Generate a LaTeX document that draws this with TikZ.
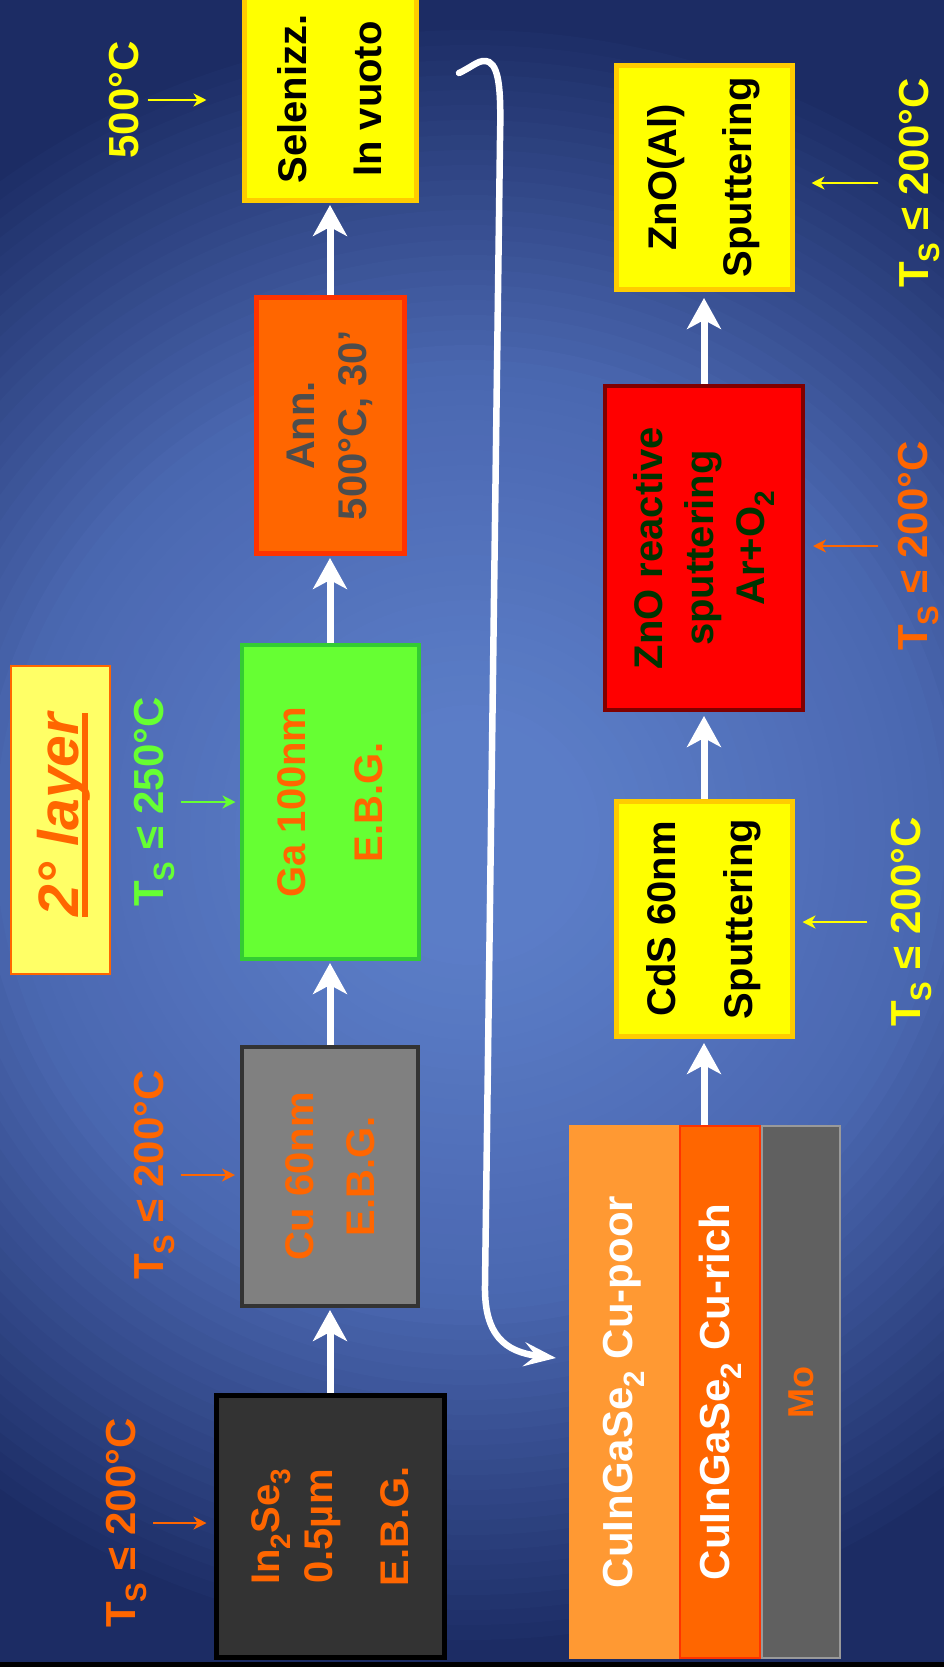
\documentclass[tikz,border=0pt]{standalone}
\usepackage{fontspec}
\setmainfont{Liberation Sans}
\usetikzlibrary{arrows.meta}
\definecolor{bglight}{HTML}{5B7DC7}
\definecolor{bgmid}{HTML}{4A67B0}
\definecolor{bgdark}{HTML}{1C2C64}
\definecolor{corange}{HTML}{FF6600}
\definecolor{cyellow}{HTML}{FFFF00}
\definecolor{cgold}{HTML}{FFCC00}
\definecolor{cgreen}{HTML}{66FF33}
\definecolor{cgreenb}{HTML}{33CC33}
\definecolor{cdark}{HTML}{333333}
\definecolor{cgray}{HTML}{808080}
\definecolor{cred}{HTML}{FF3300}
\definecolor{cmaroon}{HTML}{800000}
\definecolor{cdgreen}{HTML}{003300}
\definecolor{ctext}{HTML}{4D4D4D}
\definecolor{cpoor}{HTML}{FF9933}
\definecolor{cmo}{HTML}{606060}
\definecolor{cmob}{HTML}{999999}
\definecolor{cpale}{HTML}{FFFF66}
\tikzset{
  box/.style={rotate=90, inner sep=0pt, align=center},
  bf/.style={font=\bfseries\fontsize{40}{#1}\selectfont},
  flow/.style={draw=white, line width=7pt, -{Stealth[length=31pt,width=34pt,inset=9pt]}},
  tmark/.style={line width=2.5pt, -{Stealth[length=13pt,width=13pt,inset=4pt]}},
  lbl/.style={rotate=90, anchor=base, inner sep=0pt, font=\bfseries\fontsize{42}{50}\selectfont},
}
\begin{document}
\begin{tikzpicture}[x=1pt,y=-1pt]
\useasboundingbox (0,0) rectangle (944,1673);
% background: radial gradient built from concentric discs
\begin{scope}
\clip (0,0) rectangle (944,1662);
\fill[bgdark] (0,0) rectangle (944,1662);
\foreach \r in {1000,985,...,10} {
  \pgfmathtruncatemacro\pa{min(100,max(0,(\r-470)/3.5))}
  \pgfmathtruncatemacro\pb{min(100,max(0,(\r-120)/3.5))}
  \ifnum\r>470 \colorlet{cc}{bgdark!\pa!bgmid}\else\colorlet{cc}{bgmid!\pb!bglight}\fi
  \fill[cc] (470,835) circle (\r pt);
}
\end{scope}
\fill[black] (0,1662) rectangle (944,1667);
\fill[white] (0,1667) rectangle (944,1673);

% left column
\node[box, bf=53, draw=black, line width=5pt, fill=cdark, text=corange,
      minimum width=262pt, minimum height=228pt] (inse) at (330,1526.5)
      {In\textsubscript{2}Se\textsubscript{3}\\0.5µm\\[23pt]E.B.G.};
\node[box, bf=61, draw=cdark, line width=4pt, fill=cgray, text=corange,
      minimum width=259pt, minimum height=176pt] (cu) at (330,1176.5)
      {Cu 60nm\\E.B.G.};
\node[box, bf=77, draw=cgreenb, line width=4pt, fill=cgreen, text=corange,
      minimum width=314pt, minimum height=177pt] (ga) at (330,802)
      {Ga 100nm\\E.B.G.};
\node[box, bf=52, draw=cred, line width=5pt, fill=corange, text=ctext,
      minimum width=256pt, minimum height=148pt] (ann) at (330,425.5)
      {Ann.\\500°C, 30’};
\node[box, bf=75, draw=cgold, line width=5pt, fill=cyellow, text=black,
      minimum width=203pt, minimum height=172pt] (sel) at (330,99)
      {Selenizz.\\In vuoto};

% right column
\node[box, bf=75, draw=cgold, line width=5pt, fill=cyellow, text=black,
      minimum width=224pt, minimum height=176pt] (zal) at (704,177.5)
      {ZnO(Al)\\Sputtering};
\node[box, bf=51, draw=cmaroon, line width=4pt, fill=red, text=cdgreen,
      minimum width=324pt, minimum height=198pt] (zre) at (704,548)
      {ZnO reactive\\sputtering\\Ar+O\textsubscript{2}};
\node[box, bf=77, draw=cgold, line width=5pt, fill=cyellow, text=black,
      minimum width=235pt, minimum height=176pt] (cds) at (704,919)
      {CdS 60nm\\Sputtering};

% layer stack
\node[box, font=\bfseries\fontsize{42}{48}\selectfont, fill=cpoor, text=white,
      minimum width=534pt, minimum height=110pt] (poor) at (624,1392)
      {CuInGaSe\textsubscript{2} Cu-poor};
\node[box, font=\bfseries\fontsize{42}{48}\selectfont, draw=cred, line width=2pt, fill=corange, text=white,
      minimum width=532pt, minimum height=80pt] (rich) at (720,1392)
      {CuInGaSe\textsubscript{2} Cu-rich};
\node[box, font=\bfseries\fontsize{36}{40}\selectfont, draw=cmob, line width=2pt, fill=cmo, text=corange,
      minimum width=532pt, minimum height=78pt] (mo) at (801,1392)
      {\raisebox{0pt}{Mo}};

% 2 layer
\node[box, draw=corange, line width=2pt, fill=cpale,
      minimum width=308pt, minimum height=99pt] (lay) at (60.5,820) {};
\node[rotate=90, inner sep=0pt, text=corange,
      font=\bfseries\itshape\fontsize{57}{60}\selectfont] (layt) at (64,815) {2° layer};
\draw[corange, line width=6pt] ([xshift=-6pt]layt.south west) -- ([xshift=-6pt]layt.south east);

% flow arrows
\draw[flow, shorten >=2pt] (inse) -- (cu);
\draw[flow, shorten >=2pt] (cu) -- (ga);
\draw[flow, shorten >=2pt] (ga) -- (ann);
\draw[flow, shorten >=2pt] (ann) -- (sel);
\draw[flow, shorten >=4pt] (rich.east -| cds) -- (cds);
\draw[flow, shorten >=4pt] (cds) -- (zre);
\draw[flow, shorten >=6pt] (zre) -- (zal);

% big curved arrow
\coordinate (cs) at (459,73);
\coordinate (ce) at (556,1358);
\draw[white, line width=6.5pt, line cap=round, -{Stealth[length=32pt,width=24pt,inset=12pt]}]
  (cs) .. controls (474,66) and (480,58) .. (489,62)
  .. controls (500,68) and (501,95) .. (500,140)
  -- (485,1285)
  .. controls (484,1335) and (505,1352) .. (ce);

% temperature labels
\node[lbl, text=cyellow] (l500) at (138,100) {500°C};
\node[lbl, text=cgreen] (lga) at (163,802) {T\textsubscript{S} ≤ 250°C};
\node[lbl, text=corange] (lcu) at (163,1175) {T\textsubscript{S} ≤ 200°C};
\node[lbl, text=corange] (lin) at (135,1523) {T\textsubscript{S} ≤ 200°C};
\node[lbl, text=cyellow] (lzal) at (928,183) {T\textsubscript{S} ≤ 200°C};
\node[lbl, text=corange] (lzre) at (927,546) {T\textsubscript{S} ≤ 200°C};
\node[lbl, text=cyellow] (lcds) at (920,922) {T\textsubscript{S} ≤ 200°C};

\draw[tmark, draw=cyellow, fill=cyellow, shorten <=9pt, shorten >=35pt] (l500.south) -- (l500.south -| sel.north);
\draw[tmark, draw=cgreen, fill=cgreen, shorten <=6pt, shorten >=4pt] (lga.south) -- (lga.south -| ga.north);
\draw[tmark, draw=corange, fill=corange, shorten <=6pt, shorten >=5pt] (lcu.south) -- (lcu.south -| cu.north);
\draw[tmark, draw=corange, fill=corange, shorten <=6pt, shorten >=7pt] (lin.south) -- (lin.south -| inse.north);
\draw[tmark, draw=cyellow, fill=cyellow, shorten <=20pt, shorten >=17pt] (lzal.north) -- (lzal.north -| zal.south);
\draw[tmark, draw=corange, fill=corange, shorten <=19pt, shorten >=8pt] (lzre.north) -- (lzre.north -| zre.south);
\draw[tmark, draw=cyellow, fill=cyellow, shorten <=23pt, shorten >=8pt] (lcds.north) -- (lcds.north -| cds.south);
\end{tikzpicture}
\end{document}
